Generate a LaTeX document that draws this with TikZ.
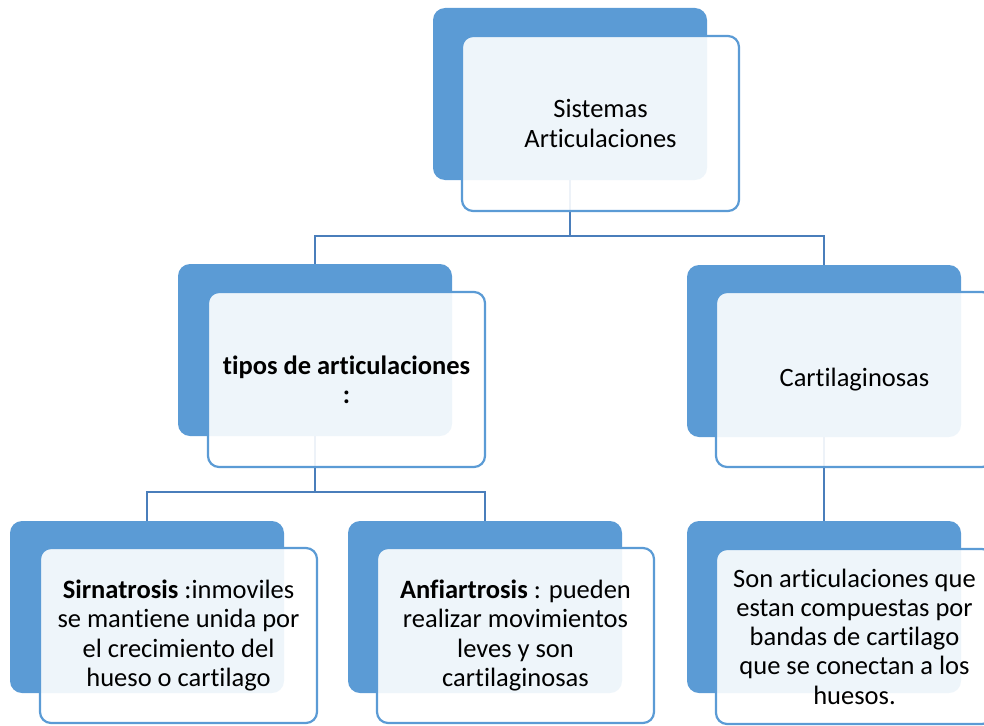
\documentclass[tikz,border=0pt]{standalone}
\usepackage{fontspec}
\setmainfont{Carlito}[Ligatures={NoCommon,NoRequired,NoContextual}]
\usetikzlibrary{calc}
\definecolor{backblue}{HTML}{5B9BD5}
\definecolor{edgeblue}{HTML}{5B9BD5}
\definecolor{connblue}{HTML}{4A7EBB}
\definecolor{txt}{HTML}{000000}
\tikzset{
  backbox/.style={draw=none, fill=backblue, rounded corners=12pt, minimum width=274pt, minimum height=172pt, anchor=north west, inner sep=0pt, outer sep=0pt},
  frontbox/.style={draw=edgeblue, line width=2.2pt, fill=white, fill opacity=0.9, draw opacity=1, text opacity=1, rounded corners=11pt, minimum width=277pt, minimum height=175pt, anchor=north west, inner sep=0pt, outer sep=0pt, align=center, text=txt, font=\fontsize{26.5}{29.2}\selectfont},
  conn/.style={draw=connblue, line width=2.5pt}
}
\begin{document}
\begin{tikzpicture}[x=1pt, y=-1pt]
\useasboundingbox (0,0) rectangle (984,725);
% back boxes
\node[backbox] (top) at (433,8) {};
\node[backbox] (ml) at (178,264) {};
\node[backbox] (mr) at (687,265) {};
\node[backbox] (bl) at (10,521) {};
\node[backbox] (bm) at (348,521) {};
\node[backbox] (br) at (687,521) {};
% connectors
\coordinate (j1) at ($(top.south)+(0,56)$);
\coordinate (j2) at ($(ml.south)+(0,56)$);
\draw[conn] (top.south) -- (j1) -| (ml.north);
\draw[conn] (j1) -| (mr.north);
\draw[conn] (ml.south) -- (j2) -| (bl.north);
\draw[conn] (j2) -| (bm.north);
\draw[conn] (mr.south) -- (br.north);
% front boxes
\node[frontbox] (topf) at (462,36) {Sistemas\\Articulaciones};
\node[frontbox] (mlf) at (208,292) {\textbf{tipos de articulaciones}\\\textbf{:}};
\node[frontbox] (mrf) at (716,292) {Cartilaginosas};
\node[frontbox] (blf) at (40,548) {\textbf{Sirnatrosis} :inmoviles\\se mantiene unida por\\el crecimiento del\\hueso o cartilago};
\node[frontbox] (bmf) at (377,548) {\textbf{Anfiartrosis} : pueden\\realizar movimientos\\leves y son\\cartilaginosas};
\node[frontbox] (brf) at (716,549) {Son articulaciones que\\estan compuestas por\\bandas de cartilago\\que se conectan a los\\huesos.};
\end{tikzpicture}
\end{document}
